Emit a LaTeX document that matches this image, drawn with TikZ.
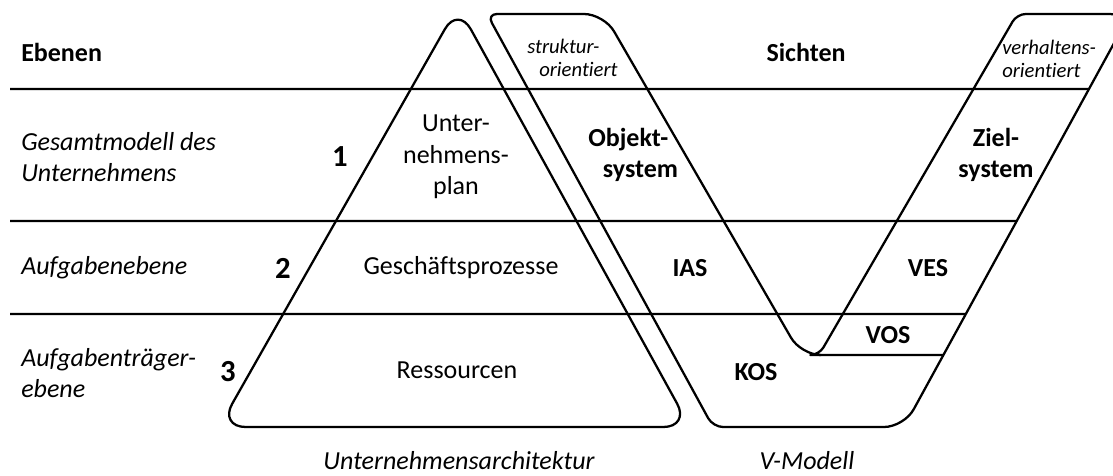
\documentclass[tikz,border=0pt]{standalone}
\usepackage{fontspec}
\setmainfont{Carlito}[Ligatures={NoCommon,NoContextual}]
\usetikzlibrary{calc}
\begin{document}
\begin{tikzpicture}[x=0.75pt,y=-0.75pt,
  outline/.style={line width=1.7pt, line join=round},
  txt/.style={inner sep=0pt, font=\fontsize{19.5pt}{23.5pt}\selectfont},
  tier/.style={inner sep=0pt, font=\fontsize{19.5pt}{23.5pt}\selectfont\itshape, anchor=west, align=left},
  boldtxt/.style={inner sep=0pt, font=\fontsize{19.5pt}{23.5pt}\selectfont\bfseries, align=center},
  number/.style={inner sep=0pt, font=\fontsize{23pt}{27pt}\selectfont\bfseries},
  view/.style={inner sep=0pt, font=\fontsize{15.5pt}{17.5pt}\selectfont\itshape, anchor=west, align=left},
  caption/.style={inner sep=0pt, font=\fontsize{19.5pt}{23.5pt}\selectfont\itshape},
]
\useasboundingbox (0,0) rectangle (1113,475);

% corners of the architecture triangle
\coordinate (tA) at (458,6);
\coordinate (tL) at (219,427);
\coordinate (tR) at (690,427);

% corners of the V
\coordinate (vTL1) at (487,14);
\coordinate (vTL2) at (604,14);
\coordinate (vB1)  at (801,355);
\coordinate (vB2)  at (819,355);
\coordinate (vTR1) at (1017,14);
\coordinate (vTR2) at (1130,14);
\coordinate (vBR)  at (904,427);
\coordinate (vBL)  at (713,427);

% level separators end on the outer right edge of the V
\coordinate (l1) at (10,89);
\coordinate (l2) at (10,221);
\coordinate (l3) at (10,314);
\coordinate (r1) at ($(vTR2)!{75/413}!(vBR)$);
\coordinate (r2) at ($(vTR2)!{207/413}!(vBR)$);
\coordinate (r3) at ($(vTR2)!{300/413}!(vBR)$);
\coordinate (r4) at ($(vTR2)!{341/413}!(vBR)$);

\draw[outline] (l1) -- (r1);
\draw[outline] (l2) -- (r2);
\draw[outline] (l3) -- (r3);
\draw[outline] (vB2) -- (r4);

% triangle
\draw[outline, rounded corners=20pt] ($(tL)!0.5!(tR)$) -- (tL) -- (tA) -- (tR) -- cycle;

% V
\draw[outline, rounded corners=15pt] ($(vTL1)!0.5!(vTL2)$) -- (vTL2) -- (vB1)
  [rounded corners=6.5pt] -- (vB2) -- (vTR1)
  [rounded corners=15pt] -- (vTR2) -- (vBR)
  [rounded corners=7.5pt] -- (vBL) -- (vTL1)
  [rounded corners=15pt] -- cycle;

% left column
\node[boldtxt, anchor=west] (ebenen) at (21,52) {Ebenen};
\node[tier] (gesamt) at (21,157) {Gesamtmodell des\\Unternehmens};
\node[tier] (aufgabe) at (21,268) {Aufgabenebene};
\node[tier] (traeger) at (21,373) {Aufgabenträger-\\ebene};

\node[number] (n1) at (340,157) {1};
\node[number] (n2) at (283,268) {2};
\node[number] (n3) at (228,372) {3};

% triangle contents
\node[txt, align=center] (plan) at (456,157) {Unter-\\nehmens-\\plan};
\node[txt] (gp) at (461,268) {Geschäftsprozesse};
\node[txt] (res) at (457,370) {Ressourcen};
\node[caption] (ua) at (459,461) {Unternehmensarchitektur};

% V contents
\node[view] (struktur) at (527,58) {struktur-\\\hspace*{9pt}orientiert};
\node[view] (verhalten) at (1002,59) {verhaltens-\\orientiert};
\node[boldtxt] (sichten) at (806,52) {Sichten};
\node[boldtxt, anchor=west, align=left] (objekt) at (588,155) {Objekt-\\\hspace*{11pt}system};
\node[boldtxt] (ziel) at (996,155) {Ziel-\\system};
\node[boldtxt] (ias) at (690,268) {IAS};
\node[boldtxt] (ves) at (928,268) {VES};
\node[boldtxt] (vos) at (888,335) {VOS};
\node[boldtxt] (kos) at (756,372) {KOS};
\node[caption] (vm) at (807,461) {V-Modell};
\end{tikzpicture}
\end{document}
